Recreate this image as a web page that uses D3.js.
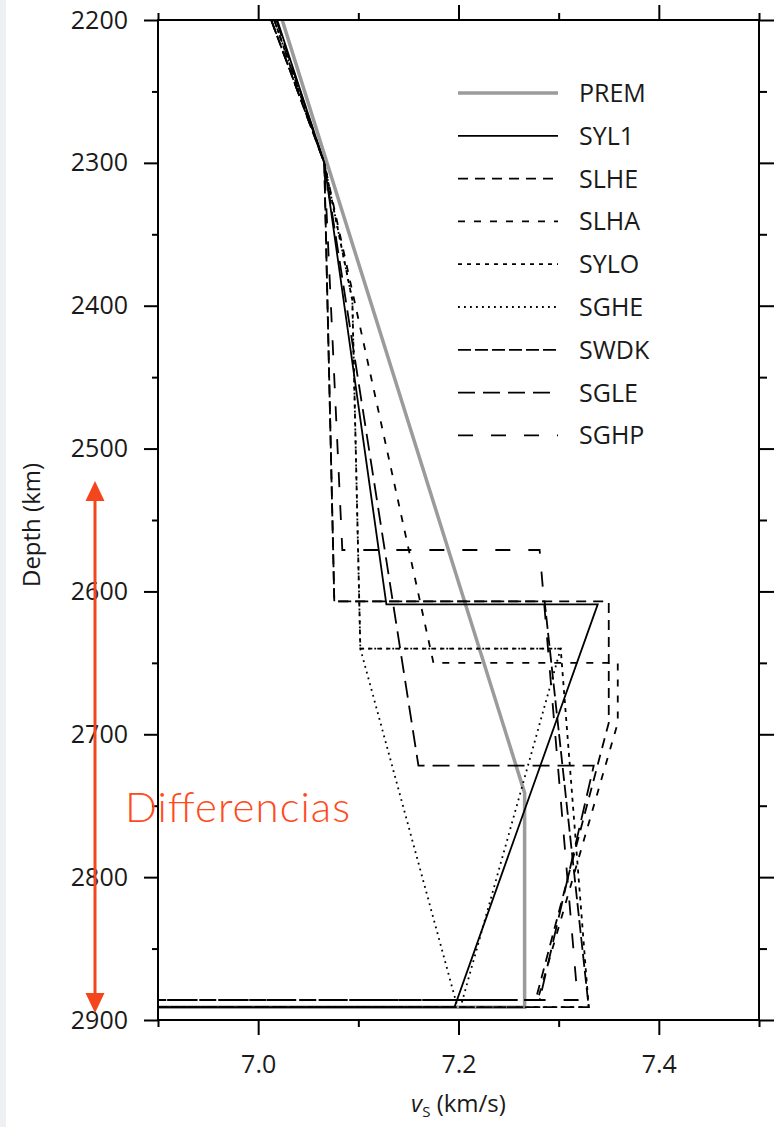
<!DOCTYPE html>
<html>
<head>
<meta charset="utf-8">
<script src="https://cdn.jsdelivr.net/npm/d3@7"></script>
<style>
  body { margin: 0; background: #fff; }
  svg { display: block; }
</style>
</head>
<body>
<script>
// shear velocity models in D" : [vs (km/s), depth (km)]
const PREM = [[7.024, 2200], [7.266, 2741], [7.266, 2891], [0, 2891]];
const SYL1 = [[7.019, 2200], [7.066, 2300], [7.128, 2609], [7.339, 2609], [7.196, 2891], [0, 2891]];
const SLHE = [[7.013, 2200], [7.066, 2300], [7.076, 2607], [7.350, 2607], [7.350, 2692], [7.277, 2886], [0, 2886]];
const SLHA = [[7.016, 2200], [7.066, 2300], [7.175, 2650], [7.359, 2650], [7.359, 2692], [7.279, 2886], [0, 2886]];
const SYLO = [[7.016, 2200], [7.066, 2300], [7.094, 2396], [7.102, 2640], [7.302, 2640], [7.330, 2891], [0, 2891]];
const SGHE = [[7.016, 2200], [7.066, 2300], [7.094, 2396], [7.102, 2640], [7.302, 2640], [7.202, 2891], [0, 2891]];
const SGHE_B = [[7.102, 2640], [7.199, 2891]];
const SWDK = [[7.013, 2200], [7.066, 2300], [7.076, 2607], [7.286, 2607], [7.330, 2891], [0, 2891]];
const SGLE = [[7.018, 2200], [7.066, 2300], [7.160, 2722], [7.335, 2722], [7.281, 2886], [0, 2886]];
const SGHP = [[7.013, 2200], [7.066, 2300], [7.084, 2571], [7.281, 2571], [7.319, 2886], [0, 2886]];

const modelNames = ["PREM", "SYL1", "SLHE", "SLHA", "SYLO", "SGHE", "SWDK", "SGLE", "SGHP"];
const modelData = { PREM, SYL1, SLHE, SLHA, SYLO, SGHE, SWDK, SGLE, SGHP };

// axis ticks
const depthMajor = [2200, 2300, 2400, 2500, 2600, 2700, 2800, 2900];
const depthMinor = [2250, 2350, 2450, 2550, 2650, 2750, 2850];
const vsMajor = [7.0, 7.2, 7.4];
const vsMinor = [6.9, 7.1, 7.3, 7.5];

// line styles
const styles = {
    PREM: { stroke: "#9b9b9b", width: 3.5, dash: null },
    SYL1: { stroke: "#000", width: 1.8, dash: null },
    SLHE: { stroke: "#000", width: 1.8, dash: "10,7" },
    SLHA: { stroke: "#000", width: 1.8, dash: "7,9" },
    SYLO: { stroke: "#000", width: 1.8, dash: "4,5" },
    SGHE: { stroke: "#000", width: 1.8, dash: "1.8,4.2" },
    SWDK: { stroke: "#000", width: 1.8, dash: "13,4" },
    SGLE: { stroke: "#000", width: 1.8, dash: "17,8" },
    SGHP: { stroke: "#000", width: 1.8, dash: "15,18" }
};

const width = 774;
const height = 1127;
const font = "'Open Sans', 'Noto Sans', sans-serif";

const x = d3.scaleLinear().domain([6.9, 7.5]).range([158, 759]);
const y = d3.scaleLinear().domain([2200, 2900]).range([20, 1020]);

const svg = d3.select("body")
    .append("svg")
    .attr("width", width)
    .attr("height", height);

// faint strip on the left edge of the screenshot
svg.append("rect")
    .attr("x", 0).attr("y", 0)
    .attr("width", 6).attr("height", height)
    .attr("fill", "#eef0f4");

svg.append("defs").append("clipPath")
    .attr("id", "plot-clip")
    .append("rect")
    .attr("x", x(6.9)).attr("y", y(2200))
    .attr("width", x(7.5) - x(6.9))
    .attr("height", y(2900) - y(2200));

const line = d3.line()
    .x(d => x(d[0]))
    .y(d => y(d[1]));

const lines = svg.append("g").attr("clip-path", "url(#plot-clip)");

function drawModel(data, st) {
    lines.append("path")
        .datum(data)
        .attr("d", line)
        .attr("fill", "none")
        .attr("stroke", st.stroke)
        .attr("stroke-width", st.width)
        .attr("stroke-dasharray", st.dash)
        .attr("stroke-linejoin", "miter");
}

modelNames.forEach(name => drawModel(modelData[name], styles[name]));
drawModel(SGHE_B, styles.SGHE);

// axes
function styleAxis(g) {
    g.select(".domain").remove();
    g.selectAll("line").attr("stroke", "#000").attr("stroke-width", 2);
    g.selectAll("text")
        .attr("fill", "#1a1a1a")
        .style("font-family", font)
        .style("font-size", "25px");
}

svg.append("g")
    .attr("transform", `translate(${x(6.9)},0)`)
    .call(d3.axisLeft(y).tickValues(depthMajor).tickSize(14).tickPadding(16).tickFormat(d3.format("d")))
    .call(styleAxis);
svg.append("g")
    .attr("transform", `translate(${x(6.9)},0)`)
    .call(d3.axisLeft(y).tickValues(depthMinor).tickSize(6).tickFormat(""))
    .call(styleAxis);
svg.append("g")
    .attr("transform", `translate(${x(7.5)},0)`)
    .call(d3.axisRight(y).tickValues(depthMajor).tickSize(15).tickFormat(""))
    .call(styleAxis);
svg.append("g")
    .attr("transform", `translate(${x(7.5)},0)`)
    .call(d3.axisRight(y).tickValues(depthMinor).tickSize(8).tickFormat(""))
    .call(styleAxis);

svg.append("g")
    .attr("transform", `translate(0,${y(2900)})`)
    .call(d3.axisBottom(x).tickValues(vsMajor).tickSize(15).tickPadding(20).tickFormat(d3.format(".1f")))
    .call(styleAxis);
svg.append("g")
    .attr("transform", `translate(0,${y(2900)})`)
    .call(d3.axisBottom(x).tickValues(vsMinor).tickSize(7).tickFormat(""))
    .call(styleAxis);
svg.append("g")
    .attr("transform", `translate(0,${y(2200)})`)
    .call(d3.axisTop(x).tickValues(vsMajor).tickSize(15).tickFormat(""))
    .call(styleAxis);
svg.append("g")
    .attr("transform", `translate(0,${y(2200)})`)
    .call(d3.axisTop(x).tickValues(vsMinor).tickSize(7).tickFormat(""))
    .call(styleAxis);

// frame
svg.append("rect")
    .attr("x", x(6.9)).attr("y", y(2200))
    .attr("width", x(7.5) - x(6.9))
    .attr("height", y(2900) - y(2200))
    .attr("fill", "none")
    .attr("stroke", "#000")
    .attr("stroke-width", 2);

// axis titles
svg.append("text")
    .attr("transform", "translate(40,525) rotate(-90)")
    .attr("text-anchor", "middle")
    .style("font-family", font)
    .style("font-size", "24px")
    .attr("fill", "#1a1a1a")
    .text("Depth (km)");

const xt = svg.append("text")
    .attr("x", x(7.2))
    .attr("y", 1112)
    .attr("text-anchor", "middle")
    .style("font-family", font)
    .style("font-size", "24px")
    .attr("fill", "#1a1a1a");
xt.append("tspan").style("font-style", "italic").text("v");
xt.append("tspan").attr("dy", 5).style("font-size", "15px").text("S");
xt.append("tspan").attr("dy", -5).text(" (km/s)");

// legend
const legend = svg.append("g").attr("class", "legend");
modelNames.forEach((name, i) => {
    const ly = 93 + i * 42.8;
    const st = styles[name];
    legend.append("line")
        .attr("x1", 458).attr("x2", 558)
        .attr("y1", ly).attr("y2", ly)
        .attr("stroke", st.stroke)
        .attr("stroke-width", st.width)
        .attr("stroke-dasharray", st.dash);
    legend.append("text")
        .attr("x", 579).attr("y", ly)
        .attr("dy", "0.36em")
        .style("font-family", font)
        .style("font-size", "25px")
        .attr("fill", "#1a1a1a")
        .text(name);
});

// red annotation
const red = "#f3461d";
const ax = 95;
const aTop = 481, aBot = 1013;
svg.append("line")
    .attr("x1", ax).attr("x2", ax)
    .attr("y1", aTop + 15).attr("y2", aBot - 15)
    .attr("stroke", red).attr("stroke-width", 3);
svg.append("path")
    .attr("d", `M${ax},${aTop} L${ax - 9.5},${aTop + 20} L${ax + 9.5},${aTop + 20} Z`)
    .attr("fill", red);
svg.append("path")
    .attr("d", `M${ax},${aBot} L${ax - 9.5},${aBot - 20} L${ax + 9.5},${aBot - 20} Z`)
    .attr("fill", red);

svg.append("text")
    .attr("x", 125)
    .attr("y", 822)
    .attr("textLength", 225)
    .style("font-family", "Lato, 'Open Sans', sans-serif")
    .style("font-weight", 300)
    .style("font-size", "42px")
    .attr("fill", "#ff4a1c")
    .text("Differencias");
</script>
</body>
</html>
